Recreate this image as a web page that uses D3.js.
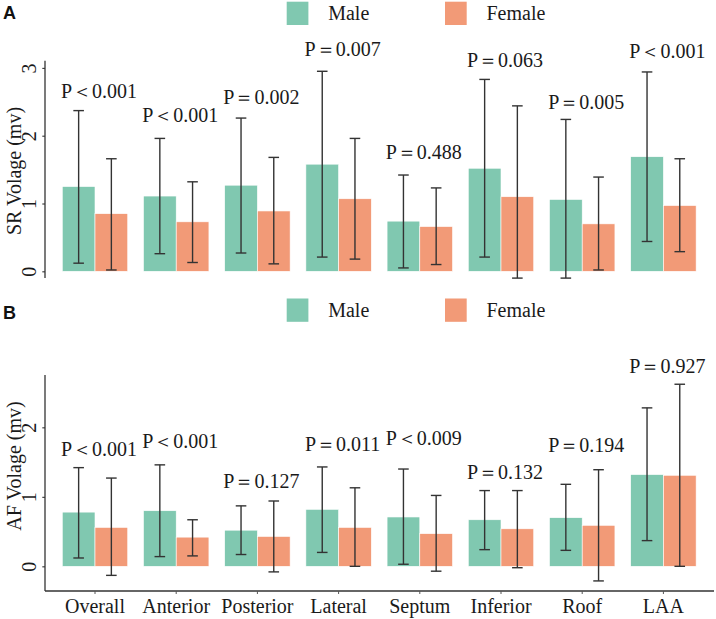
<!DOCTYPE html>
<html>
<head>
<meta charset="utf-8">
<script src="https://cdn.jsdelivr.net/npm/d3@7"></script>
<style>
  body { margin: 0; background: #fff; }
  svg { display: block; }
</style>
</head>
<body>
<svg id="chart" width="716" height="619"></svg>
<script>
// ============================= datos =========================//
var categories = ["Overall", "Anterior", "Posterior", "Lateral", "Septum", "Inferior", "Roof", "LAA"];
var sexes = ["Male", "Female"];

// SR (panel A)
var srMale     = [1.25, 1.11, 1.27, 1.58, 0.74, 1.52, 1.06, 1.69];
var srMaleLo   = [0.12, 0.26, 0.27, 0.21, 0.05, 0.21, -0.10, 0.44];
var srMaleHi   = [2.37, 1.96, 2.26, 2.95, 1.42, 2.83, 2.24, 2.94];
var srFemale   = [0.85, 0.73, 0.89, 1.07, 0.66, 1.10, 0.70, 0.97];
var srFemaleLo = [0.02, 0.13, 0.11, 0.18, 0.10, -0.10, 0.02, 0.29];
var srFemaleHi = [1.66, 1.32, 1.68, 1.96, 1.23, 2.44, 1.39, 1.66];
var srP  = ["P＜0.001", "P＜0.001", "P＝0.002", "P＝0.007", "P＝0.488", "P＝0.063", "P＝0.005", "P＜0.001"];
var srPy = [2.55, 2.20, 2.47, 3.17, 1.65, 3.02, 2.40, 3.15];
var srTicks = [0, 1, 2, 3];

// AF (panel B)
var afMale     = [0.78, 0.80, 0.52, 0.82, 0.71, 0.67, 0.70, 1.32];
var afMaleLo   = [0.12, 0.14, 0.17, 0.20, 0.03, 0.24, 0.23, 0.37];
var afMaleHi   = [1.42, 1.46, 0.87, 1.43, 1.40, 1.09, 1.18, 2.28];
var afFemale   = [0.56, 0.42, 0.43, 0.56, 0.47, 0.54, 0.59, 1.31];
var afFemaleLo = [-0.13, 0.15, -0.08, 0.00, -0.07, -0.02, -0.21, 0.00];
var afFemaleHi = [1.27, 0.67, 0.94, 1.13, 1.02, 1.09, 1.39, 2.62];
var afP  = ["P＜0.001", "P＜0.001", "P＝0.127", "P＝0.011", "P＜0.009", "P＝0.132", "P＝0.194", "P＝0.927"];
var afPy = [1.59, 1.70, 1.12, 1.66, 1.745, 1.25, 1.64, 2.785];
var afTicks = [0, 1, 2];

var SERIF = "'Liberation Serif', 'Times New Roman', 'DejaVu Serif', serif";
var color = d3.scaleOrdinal().domain(sexes).range(["#80c8b0", "#f29a77"]);

var svg = d3.select("#chart");

// escala x compartida
var x = d3.scaleBand()
  .domain(categories)
  .range([54.4, 704])
  .paddingInner(0.194)
  .paddingOuter(0.097);
var xSub = d3.scaleBand()
  .domain(sexes)
  .range([0, x.bandwidth()]);

function serifText(sel) {
  sel.style("font-family", SERIF)
    .style("font-size", "20px")
    .attr("fill", "#1a1a1a");
}

// ============================= arma un panel =========================//
function drawPanel(cfg) {
  var g = svg.append("g");

  var y = d3.scaleLinear().domain(cfg.domain).range([cfg.bottom, cfg.top]);

  var rows = categories.map(function(c, i) {
    return {
      cat: c,
      vals: [
        { sex: "Male", v: cfg.male[i], lo: cfg.maleLo[i], hi: cfg.maleHi[i] },
        { sex: "Female", v: cfg.female[i], lo: cfg.femaleLo[i], hi: cfg.femaleHi[i] }
      ]
    };
  });

  var groups = g.selectAll("g.grp")
    .data(rows)
    .enter().append("g")
      .attr("class", "grp")
      .attr("transform", function(d) { return "translate(" + x(d.cat) + ",0)"; });

  groups.selectAll("rect")
    .data(function(d) { return d.vals; })
    .enter().append("rect")
      .attr("x", function(d) { return xSub(d.sex); })
      .attr("width", xSub.bandwidth())
      .attr("y", function(d) { return y(d.v); })
      .attr("height", function(d) { return y(0) - y(d.v); })
      .attr("fill", function(d) { return color(d.sex); })
      .attr("stroke", "#fff")
      .attr("stroke-width", 0.6);

  // barras de error
  var cap = 5.3;
  var mid = function(d) { return xSub(d.sex) + xSub.bandwidth() / 2; };
  var eb = groups.selectAll("g.eb")
    .data(function(d) { return d.vals; })
    .enter().append("g")
      .attr("class", "eb")
      .attr("stroke", "#333")
      .attr("stroke-width", 1.4);
  eb.append("line")
    .attr("x1", mid).attr("x2", mid)
    .attr("y1", function(d) { return y(d.lo); })
    .attr("y2", function(d) { return y(d.hi); });
  eb.append("line")
    .attr("x1", function(d) { return mid(d) - cap; })
    .attr("x2", function(d) { return mid(d) + cap; })
    .attr("y1", function(d) { return y(d.hi); })
    .attr("y2", function(d) { return y(d.hi); });
  eb.append("line")
    .attr("x1", function(d) { return mid(d) - cap; })
    .attr("x2", function(d) { return mid(d) + cap; })
    .attr("y1", function(d) { return y(d.lo); })
    .attr("y2", function(d) { return y(d.lo); });

  // textos de P
  g.selectAll("text.pval")
    .data(categories)
    .enter().append("text")
      .attr("class", "pval")
      .attr("x", function(d) { return x(d) + x.bandwidth() / 2 + 4; })
      .attr("y", function(d, i) { return y(cfg.py[i]); })
      .attr("text-anchor", "middle")
      .call(serifText)
      .text(function(d, i) { return cfg.p[i]; });

  // eje y
  var yAxis = d3.axisLeft(y).tickValues(cfg.ticks).tickSize(2.7).tickFormat(d3.format("d"));
  var ya = g.append("g")
    .attr("transform", "translate(45,0)")
    .call(yAxis);
  ya.select(".domain").attr("stroke", "#333").attr("stroke-width", 1.3)
    .attr("d", "M0," + cfg.bottom + "V" + cfg.top);
  ya.selectAll(".tick line").attr("stroke", "#333").attr("stroke-width", 1.1);
  ya.selectAll(".tick text")
    .attr("x", null).attr("dy", null)
    .attr("transform", "translate(-9,0) rotate(-90)")
    .attr("text-anchor", "middle")
    .call(serifText);

  g.append("text")
    .attr("transform", "translate(20.5," + cfg.titleY + ") rotate(-90)")
    .attr("text-anchor", "middle")
    .call(serifText)
    .text(cfg.title);

  // eje x (solo panel B)
  if (cfg.xaxis) {
    var xa = g.append("g")
      .attr("transform", "translate(0," + cfg.bottom + ")")
      .call(d3.axisBottom(x).tickSize(3).tickSizeOuter(0));
    xa.select(".domain").attr("stroke", "#333").attr("stroke-width", 1.3)
      .attr("d", "M45,0H714");
    xa.selectAll(".tick line").attr("stroke", "#555");
    xa.selectAll(".tick text")
      .attr("y", 21.5).attr("dy", null)
      .call(serifText);
  }

  // leyenda
  var leg = g.selectAll("g.leg")
    .data(sexes)
    .enter().append("g")
      .attr("class", "leg")
      .attr("transform", function(d, i) { return "translate(" + (i === 0 ? 286.7 : 445) + "," + cfg.legY + ")"; });
  leg.append("rect")
    .attr("width", 21.7)
    .attr("height", 23.3)
    .attr("fill", function(d) { return color(d); });
  leg.append("text")
    .attr("x", 41.5)
    .attr("y", 18.8)
    .call(serifText)
    .text(function(d) { return d; });

  svg.append("text")
    .attr("x", 3)
    .attr("y", cfg.letterY)
    .style("font-family", "'Liberation Sans', Arial, sans-serif")
    .style("font-weight", "bold")
    .style("font-size", "18px")
    .attr("fill", "#111")
    .text(cfg.letter);
}

drawPanel({
  domain: [-0.1, 3.106], top: 60.7, bottom: 278.1,
  male: srMale, maleLo: srMaleLo, maleHi: srMaleHi,
  female: srFemale, femaleLo: srFemaleLo, femaleHi: srFemaleHi,
  p: srP, py: srPy, ticks: srTicks,
  title: "SR Volage (mv)", titleY: 171,
  xaxis: false, legY: 1.7, letter: "A", letterY: 19
});

drawPanel({
  domain: [-0.355, 2.753], top: 375, bottom: 591,
  male: afMale, maleLo: afMaleLo, maleHi: afMaleHi,
  female: afFemale, femaleLo: afFemaleLo, femaleHi: afFemaleHi,
  p: afP, py: afPy, ticks: afTicks,
  title: "AF Volage (mv)", titleY: 466,
  xaxis: true, legY: 298.5, letter: "B", letterY: 318.5
});
</script>
</body>
</html>
